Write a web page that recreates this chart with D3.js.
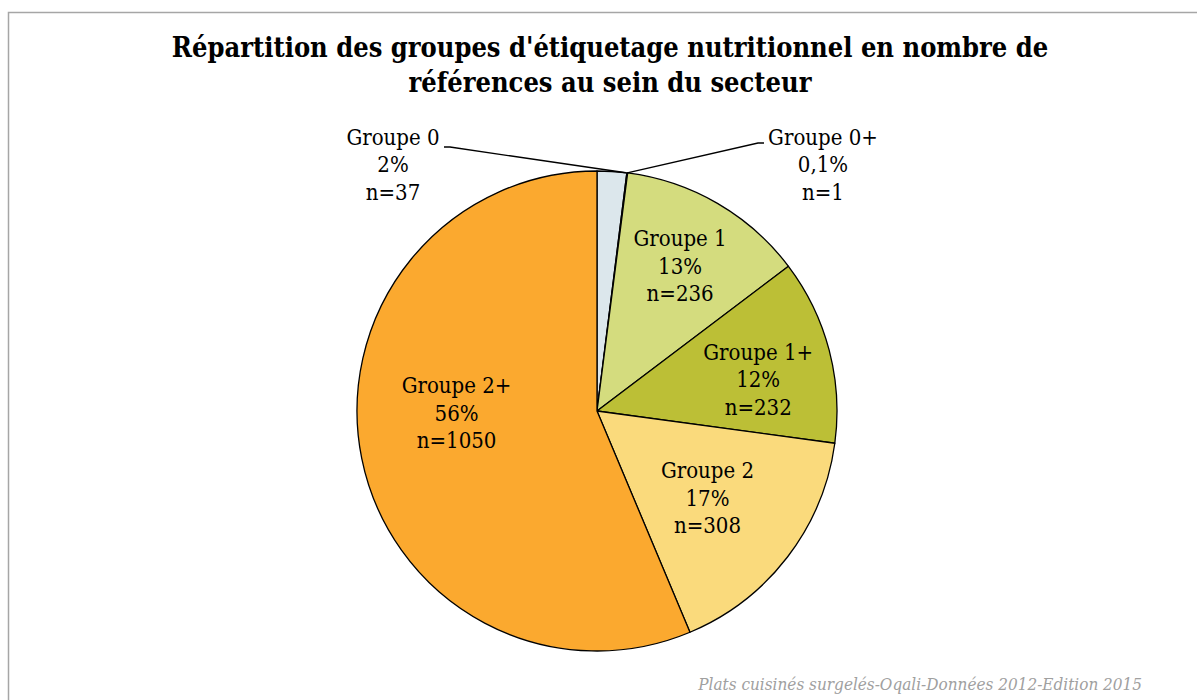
<!DOCTYPE html>
<html>
<head>
<meta charset="utf-8">
<script src="https://cdn.jsdelivr.net/npm/d3@7"></script>
<style>
  body { margin: 0; background: #fff; }
  svg { display: block; }
</style>
</head>
<body>
<div id="chart"></div>
<script>
// data
var groups = ["Groupe 0", "Groupe 0+", "Groupe 1", "Groupe 1+", "Groupe 2", "Groupe 2+"];
var counts = [37, 1, 236, 232, 308, 1050];
var pctLabels = ["2%", "0,1%", "13%", "12%", "17%", "56%"];
var colors = ["#dce7ec", "#9fb8c4", "#d4dc7e", "#bcbf36", "#fada7c", "#fba92f"];

var titleLines = ["Répartition des groupes d'étiquetage nutritionnel en nombre de",
    "références au sein du secteur"];
var sourceText = "Plats cuisinés surgelés-Oqali-Données 2012-Edition 2015";

var width = 1197, height = 700;
var cx = 597, cy = 411, radius = 240;
var serif = "'DejaVu Serif Condensed', 'DejaVu Serif', serif";

// label placement: fraction of radius (+ nudge) for inside labels, fixed spot for outside ones
var labelPlace = [
    {outside: true, x: 393, y: 137, lineX: 450, lineY: 147, dir: 1},
    {outside: true, x: 823, y: 137, lineX: 758, lineY: 143, dir: -1},
    {r: 0.69, dx: 0, dy: -2},
    {r: 0.69, dx: 1, dy: 10},
    {r: 0.58, dx: 0, dy: 2},
    {r: 0.58, dx: -4, dy: -26}
];

var svg = d3.select("#chart")
    .append("svg")
    .attr("width", width)
    .attr("height", height);

// chart area frame (only top and left visible)
svg.append("rect")
    .attr("x", 8.5)
    .attr("y", 12.5)
    .attr("width", width + 20)
    .attr("height", height + 20)
    .style("fill", "#fff")
    .style("stroke", "#a6a6a6")
    .style("stroke-width", 1.5);

// title
var title = svg.append("text")
    .attr("text-anchor", "middle")
    .style("font-family", serif)
    .style("font-weight", "bold")
    .style("font-size", "27px")
    .style("fill", "#000");
titleLines.forEach(function (t, i) {
    title.append("tspan")
        .attr("x", 610)
        .attr("y", 57 + i * 35)
        .text(t);
});

var pie = d3.pie().value(function (d) { return d; }).sort(null);
var arcs = pie(counts);
var arc = d3.arc().innerRadius(0).outerRadius(radius);

var g = svg.append("g")
    .attr("transform", "translate(" + cx + "," + cy + ")");

g.selectAll("path.slice")
    .data(arcs)
    .enter()
    .append("path")
    .attr("class", "slice")
    .attr("d", arc)
    .style("fill", function (d, i) { return colors[i]; })
    .style("stroke", "#000")
    .style("stroke-width", 1.3)
    .style("stroke-linejoin", "round");

// labels
arcs.forEach(function (d, i) {
    var p = labelPlace[i];
    var lx, ly;
    if (p.outside) {
        lx = p.x - cx;
        ly = p.y - cy;
        // leader line to the slice edge
        var a = i === 0 ? d.endAngle - 0.004 : (d.startAngle + d.endAngle) / 2;
        var ex = radius * Math.sin(a), ey = -radius * Math.cos(a);
        g.append("polyline")
            .attr("points", [
                [p.lineX - cx - p.dir * 6, p.lineY - cy],
                [p.lineX - cx, p.lineY - cy],
                [ex, ey]
            ].map(function (q) { return q.join(","); }).join(" "))
            .style("fill", "none")
            .style("stroke", "#000")
            .style("stroke-width", 1.3);
    } else {
        var la = d3.arc().innerRadius(radius * p.r).outerRadius(radius * p.r);
        var c = la.centroid(d);
        lx = c[0] + p.dx;
        ly = c[1] - 27 + p.dy;
    }
    var t = g.append("text")
        .attr("text-anchor", "middle")
        .style("font-family", serif)
        .style("font-size", "22px")
        .style("fill", "#000");
    [groups[i], pctLabels[i], "n=" + counts[i]].forEach(function (s, k) {
        t.append("tspan")
            .attr("x", lx)
            .attr("y", ly + k * 27.5)
            .attr("dy", "0.35em")
            .text(s);
    });
});

// source note
svg.append("text")
    .attr("x", 1142)
    .attr("y", 690)
    .attr("text-anchor", "end")
    .style("font-family", serif)
    .style("font-style", "italic")
    .style("font-size", "17px")
    .style("fill", "#a0a0a0")
    .text(sourceText);
</script>
</body>
</html>
